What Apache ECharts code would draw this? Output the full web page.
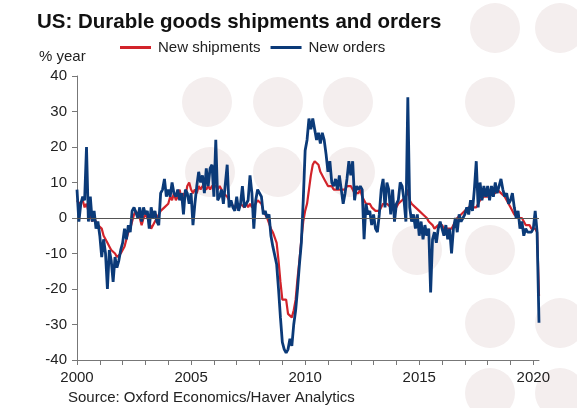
<!DOCTYPE html>
<html>
<head>
<meta charset="utf-8">
<script src="https://cdn.jsdelivr.net/npm/echarts@6/dist/echarts.min.js"></script>
<style>
html,body{margin:0;padding:0;background:#fff;}
#chart{width:577px;height:408px;}
</style>
</head>
<body>
<div id="chart"></div>
<script>
// Monthly data, Jan 2000 - Apr 2020 (% year)
const startYear = 2000;
const monthCount = 244;

const newOrders = [
  // 2000
  8, -1, 4, 6, 5, 20, -1, 6, -1, 2, -3, -1,
  // 2001
  -5, -11, -6, -10, -20, -9, -12, -18, -11, -14, -12, -9,
  // 2002
  -7, -3, -6, -2, -4, 2, 3, 3, 0, 3, -1, 3,
  // 2003
  1, 2, -3, 3, 0, 2, -1, -2, 7, 8, 11, 6,
  // 2004
  8, 6, 10, 7, 6, 8, 5, 7, 1, 8, 7, 4,
  // 2005
  7, -2, 4, 9, 13, 10, 12, 7, 14, 9, 14, 15,
  // 2006
  6, 22, 5, 6, 8, 4, 4, 15, 3, 5, 3, 2,
  // 2007
  6, 2, 4, 9, 3, 4, 5, 12, 7, -3, 5, 8,
  // 2008
  7, 6, 1, 2, 0, 1, -5, -8, -8, -13, -20, -28,
  // 2009
  -35, -37, -38, -37, -34, -36, -30, -26, -20, -13, -7, 5,
  // 2010
  19, 22, 28, 25, 28, 25, 22, 24, 21, 24, 22, 18,
  // 2011
  13, 16, 10, 9, 11, 8, 12, 8, 4, 7, 11, 16,
  // 2012
  12, 16, 5, 9, 8, 9, 8, -6, 4, 1, 2, -2,
  // 2013
  1, -3, -4, 1, 8, 11, 3, 10, 8, 1, 8, -1,
  // 2014
  4, 5, 10, 9, 5, -1, 34, 3, -1, 1, -3, 1,
  // 2015
  -5, -1, -6, -2, -5, -3, -21, -6, -4, -7, -3, -1,
  // 2016
  -1, -5, -2, -6, -3, -10, -3, 0, -4, 1, -1, 0,
  // 2017
  1, 3, 1, 5, 2, 8, 16, 3, 10, 5, 9, 6,
  // 2018
  9, 5, 9, 6, 10, 7, 9, 11, 8, 6, 7, 4,
  // 2019
  5, 7, 3, 0, 2, -3, -1, -5, -3, -4, -4, -4,
  // 2020
  -3, 2, -4, -29.5
];

const newShipments = [
  // 2000
  5, 4, 4, 5, 3, 4, 2, 1, -1, 0, -1, -2,
  // 2001
  -2, -3, -5, -6, -7, -8, -9, -9, -10, -11, -11, -10,
  // 2002
  -9, -8, -6, -4, -3, -1, 1, 2, 1, 0, -2, 0,
  // 2003
  1, 0, -1, -3, -3, -1, 0, 1, 2, 2, 3, 3,
  // 2004
  4, 6, 5, 7, 5, 6, 8, 5, 7, 6, 9, 10,
  // 2005
  8, 7, 8, 7, 9, 8, 9, 9, 8, 9, 8, 9,
  // 2006
  9, 9, 8, 9, 8, 7, 7, 6, 5, 4, 4, 3,
  // 2007
  3, 3, 4, 4, 3, 4, 3, 4, 3, 3, 4, 5,
  // 2008
  5, 4, 2, 1, 0, 0, -3, -4, -4, -7, -12, -18,
  // 2009
  -23, -23, -23, -27, -27, -28, -26, -23, -17, -12, -6, -1,
  // 2010
  2, 4, 8, 12, 15, 16, 16, 15, 13, 13, 11, 10,
  // 2011
  9, 9, 9, 8, 8, 8, 8, 8, 8, 8, 9, 9,
  // 2012
  9, 8, 7, 7, 7, 8, 6, 5, 4, 4, 4, 3,
  // 2013
  3, 2, 2, 2, 3, 4, 4, 4, 4, 3, 4, 4,
  // 2014
  3, 4, 4, 5, 5, 6, 8, 5, 4, 4, 3, 3,
  // 2015
  2, 2, 1, 1, 0, -1, -1, -2, -3, -3, -2, -2,
  // 2016
  -2, -3, -3, -3, -3, -3, -2, -1, 0, 0, 1, 1,
  // 2017
  2, 2, 3, 3, 3, 3, 3, 4, 5, 5, 6, 6,
  // 2018
  6, 6, 7, 7, 7, 8, 8, 7, 7, 6, 5, 4,
  // 2019
  3, 3, 1, 1, 0, 0, 0, -1, -2, -2, -2, -3,
  // 2020
  -3, -3, -4, -22
];

const yTicks = [-40, -30, -20, -10, 0, 10, 20, 30, 40];
const seriesNames = ['New shipments', 'New orders'];

// month category labels
const months = [];
for (let i = 0; i < monthCount; i++) {
  const y = startYear + Math.floor(i / 12);
  const m = (i % 12) + 1;
  months.push(y + '-' + (m < 10 ? '0' + m : m));
}

const FONT = 'Arial, "Liberation Sans", sans-serif';
const RED = '#d2232a';
const BLUE = '#0b3a78';

// faint background watermark discs
const discs = [
  [495,28],[560,28],
  [207,102],[278,102],[348,102],[490,102],
  [210,172],[278,172],[350,172],
  [417,250],[490,250],
  [490,323],[560,323],
  [490,393],[560,393]
];

const chart = echarts.init(document.getElementById('chart'), null, {renderer: 'canvas'});
const graphics = discs.map(d => ({
  type: 'circle', shape: {cx: d[0], cy: d[1], r: 25}, style: {fill: '#f4eeee'}, z: -10, silent: true
}));
graphics.push({
  type: 'text', left: 37, top: 12, z: 10,
  style: {text: 'US: Durable goods shipments and orders', font: 'bold 20.5px ' + FONT, fill: '#111'}
});
graphics.push({
  type: 'text', left: 39, top: 49, z: 10,
  style: {text: '% year', font: '15px ' + FONT, fill: '#222'}
});
graphics.push({
  type: 'text', left: 68, top: 390, z: 10,
  style: {text: 'Source: Oxford Economics/Haver Analytics', font: '15px ' + FONT, fill: '#222'}
});

chart.setOption({
  animation: false,
  backgroundColor: '#fff',
  graphic: graphics,
  legend: {
    data: seriesNames,
    left: 120, top: 40, padding: 0,
    itemWidth: 31, itemHeight: 3, itemGap: 10,
    icon: 'rect',
    textStyle: {fontSize: 15, fontFamily: FONT, color: '#222', padding: [0, 0, 0, 2]}
  },
  grid: {left: 77, right: 38, top: 76, bottom: 48, containLabel: false},
  xAxis: {
    type: 'category',
    data: months,
    boundaryGap: false,
    axisLine: {show: true, onZero: false, lineStyle: {color: '#777', width: 1}},
    axisTick: {show: true, length: 5, interval: (i) => i % 12 === 0, lineStyle: {color: '#777'}},
    axisLabel: {
      interval: (i) => i % 60 === 0,
      formatter: (v) => v.slice(0, 4),
      fontSize: 15, fontFamily: FONT, color: '#222', margin: 10
    },
    splitLine: {show: false}
  },
  yAxis: {
    type: 'value',
    min: yTicks[0], max: yTicks[yTicks.length - 1], interval: 10,
    axisLine: {show: true, lineStyle: {color: '#777', width: 1}},
    axisTick: {show: true, length: 5, lineStyle: {color: '#777'}},
    axisLabel: {fontSize: 15, fontFamily: FONT, color: '#222', margin: 10},
    splitLine: {show: false}
  },
  series: [
    {
      name: seriesNames[0], type: 'line', data: newShipments,
      showSymbol: false, symbol: 'none', color: RED,
      lineStyle: {width: 2.2, color: RED}, z: 3,
      markLine: {
        silent: true, symbol: 'none', label: {show: false},
        lineStyle: {color: '#555', width: 1, type: 'solid'},
        data: [{yAxis: 0}]
      }
    },
    {
      name: seriesNames[1], type: 'line', data: newOrders,
      showSymbol: false, symbol: 'none', color: BLUE,
      lineStyle: {width: 2.8, color: BLUE}, z: 4
    }
  ]
});
</script>
</body>
</html>
